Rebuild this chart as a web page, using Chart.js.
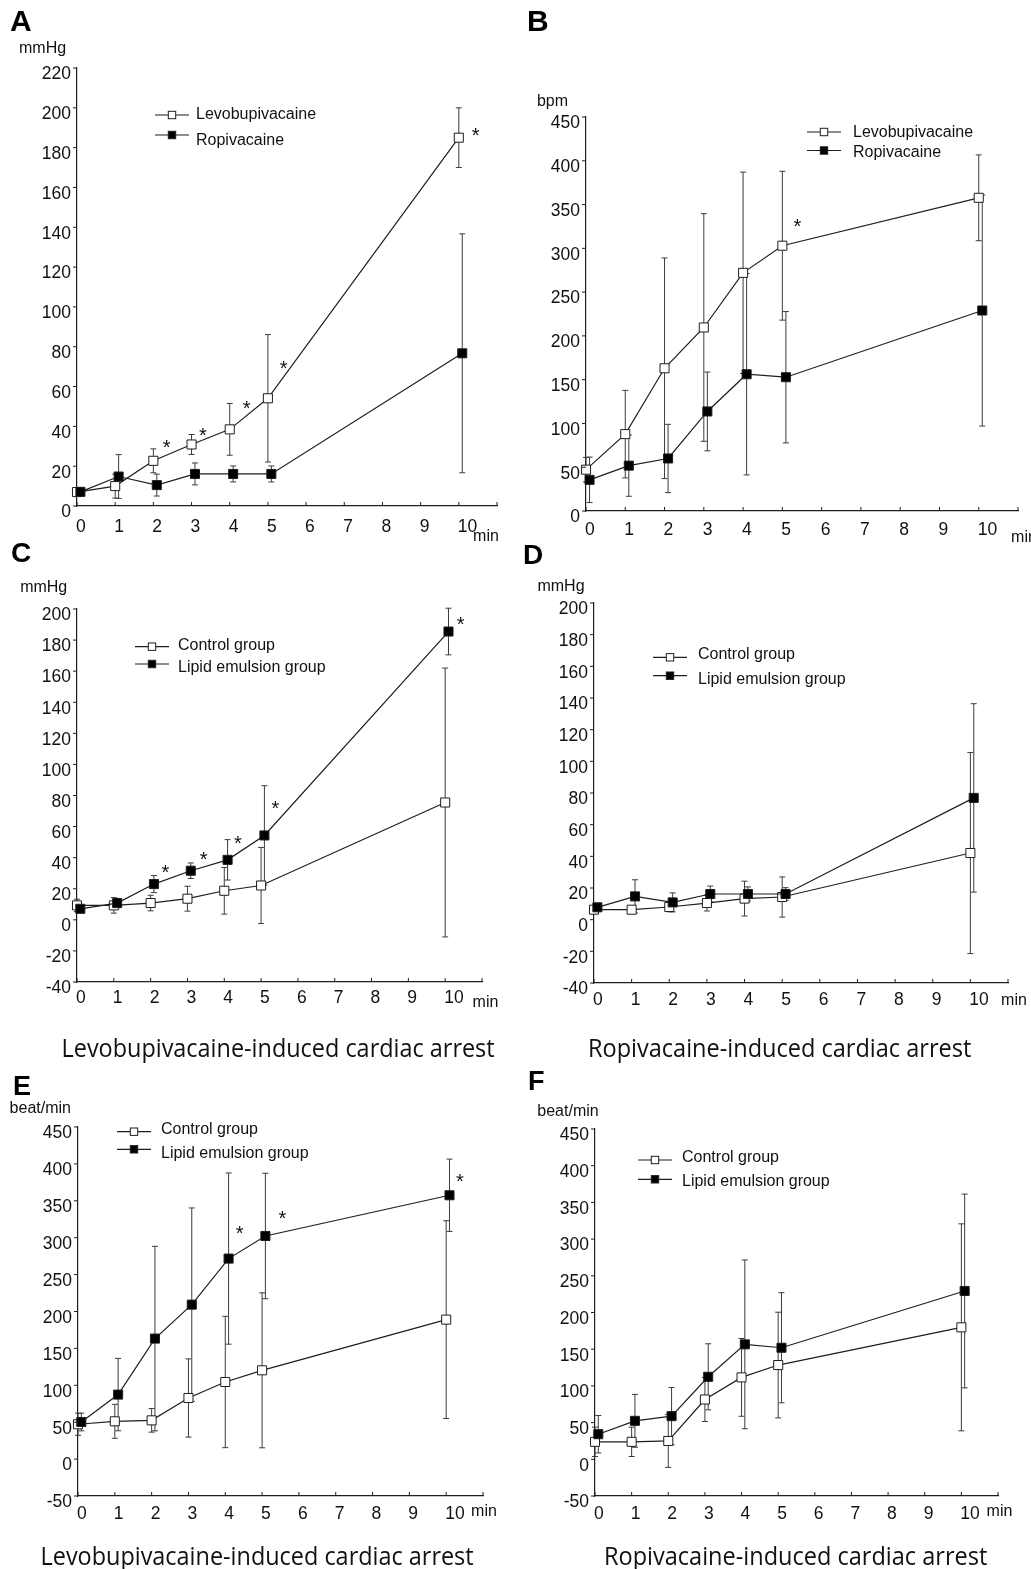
<!DOCTYPE html>
<html>
<head>
<meta charset="utf-8">
<script src="https://cdn.jsdelivr.net/npm/chart.js@4.4.0/dist/chart.umd.min.js"></script>
<style>
html, body { margin: 0; padding: 0; background: #fff; }
body { width: 1031px; height: 1569px; overflow: hidden; position: relative; }
canvas { position: absolute; }
.letter { position: absolute; font-family: 'Liberation Sans', Arial, sans-serif; font-weight: bold; color: #000; }
.sub { position: absolute; font: 25px 'Open Sans', sans-serif; line-height: 25px; color: #111; white-space: nowrap; transform-origin: center top; }
</style>
</head>
<body>

<div class="letter" style="left:10px;top:6px;font-size:30px;line-height:30px">A</div>
<div class="letter" style="left:527px;top:6px;font-size:30px;line-height:30px">B</div>
<div class="letter" style="left:11px;top:539px;font-size:28px;line-height:28px">C</div>
<div class="letter" style="left:523px;top:541px;font-size:28px;line-height:28px">D</div>
<div class="letter" style="left:13px;top:1073px;font-size:27px;line-height:27px">E</div>
<div class="letter" style="left:528px;top:1068px;font-size:27px;line-height:27px">F</div>

<div class="sub" data-cx="278" data-w="433" style="top:1035px">Levobupivacaine-induced cardiac arrest</div>
<div class="sub" data-cx="779" data-w="383" style="top:1035px">Ropivacaine-induced cardiac arrest</div>
<div class="sub" data-cx="257" data-w="433" style="top:1543px">Levobupivacaine-induced cardiac arrest</div>
<div class="sub" data-cx="795" data-w="383" style="top:1543px">Ropivacaine-induced cardiac arrest</div>

<script>
// sampling times (min) and x tick labels
const times = [0, 1, 2, 3, 4, 5, 10];
const xTickLabels = ['0', '1', '2', '3', '4', '5', '6', '7', '8', '9', '10', ''];

// A: blood pressure, mmHg
const aLevoMean = [7, 10, 22.7, 30.9, 38.5, 54.1, 185];
const aLevoErr  = [2, 6, 6, 5, 13, 32, 15];
const aRopiMean = [7.1, 14.8, 10.5, 16.1, 16.1, 16.1, 76.7];
const aRopiErr  = [2, 11, 5.5, 5.5, 4, 4, 60];
const aStars = [[2.35, 31.7], [3.3, 37.7], [4.44, 51.2], [5.41, 71.6], [10.44, 188.6]];

// B: heart rate, bpm
const bLevoMean = [47.2, 87.8, 163, 209.6, 272, 303, 357.7];
const bLevoErr  = [14, 50, 126, 130, 115, 85, 49];
const bRopiMean = [35.6, 51.8, 60, 113.7, 156.2, 152.8, 229];
const bRopiErr  = [26, 35, 39, 45, 115, 75, 132];
const bStars = [[5.38, 331]];

// C: levobupivacaine, mmHg
const cCtrlMean  = [9.3, 9.3, 10.8, 13.6, 18.7, 22.1, 75.5];
const cCtrlErr   = [4, 5, 5, 8, 15, 24.5, 86.5];
const cLipidMean = [7.1, 10.8, 23, 31.6, 38.6, 54.3, 185.5];
const cLipidErr  = [2, 3, 5.5, 5, 13, 32, 15];
const cStars = [[2.4, 33.7], [3.44, 41.9], [4.37, 52], [5.39, 75.1], [10.42, 193.4]];

// D: ropivacaine, mmHg
const dCtrlMean  = [6.3, 6.3, 8, 10.5, 13.3, 14.3, 42.1];
const dCtrlErr   = [2, 2, 3, 5, 11, 12.7, 63.5];
const dLipidMean = [7.8, 14.7, 10.9, 16.2, 16.2, 16.2, 76.9];
const dLipidErr  = [2, 10.5, 6, 5, 4.5, 4, 59.5];

// E: levobupivacaine, beat/min
const eCtrlMean  = [47.2, 51.2, 52.5, 82.8, 104.5, 120.3, 189];
const eCtrlErr   = [15, 23, 16, 53, 89, 105, 134];
const eLipidMean = [50.3, 87.4, 163.3, 209.3, 271.7, 302.3, 357.5];
const eLipidErr  = [12, 49, 125, 131, 116, 85, 49];
const eStars = [[4.39, 313], [5.55, 332.6], [10.37, 382.2]];

// F: ropivacaine, beat/min
const fCtrlMean  = [23.8, 23.8, 25, 81.5, 111.6, 128.4, 179.8];
const fCtrlErr   = [20, 20, 36, 30, 53, 72, 141];
const fLipidMean = [34.2, 52.4, 58.8, 112.4, 156.6, 152, 229.3];
const fLipidErr  = [25.5, 36, 39, 45, 115, 75, 132];

// layout of each panel, page pixels
const panels = [
  { plot: [77, 68, 497, 506], y: [0, 220, 20], unit: 'mmHg', unitAt: [42.6, 48.7], minAt: [486, 537], xPad: 11,
    legend: { x: 155, y1: 115, y2: 135, tx: 196, ty1: 115, ty2: 141 },
    series: [
      { label: 'Levobupivacaine', mean: aLevoMean, err: aLevoErr, filled: false },
      { label: 'Ropivacaine', mean: aRopiMean, err: aRopiErr, filled: true }],
    stars: aStars },
  { plot: [586, 117, 1018, 511], y: [0, 450, 50], unit: 'bpm', unitAt: [552.5, 101.4], minAt: [1024, 538], xPad: 9,
    legend: { x: 807, y1: 132, y2: 150.5, tx: 853, ty1: 132.5, ty2: 153 },
    series: [
      { label: 'Levobupivacaine', mean: bLevoMean, err: bLevoErr, filled: false },
      { label: 'Ropivacaine', mean: bRopiMean, err: bRopiErr, filled: true }],
    stars: bStars },
  { plot: [77, 609, 482, 982], y: [-40, 200, 20], unit: 'mmHg', unitAt: [43.7, 588], minAt: [485.5, 1003], xPad: 6,
    legend: { x: 135, y1: 646.7, y2: 664, tx: 178, ty1: 646, ty2: 667.7 },
    series: [
      { label: 'Control group', mean: cCtrlMean, err: cCtrlErr, filled: false },
      { label: 'Lipid emulsion group', mean: cLipidMean, err: cLipidErr, filled: true }],
    stars: cStars },
  { plot: [594, 603, 1008, 983], y: [-40, 200, 20], unit: 'mmHg', unitAt: [561, 587], minAt: [1014, 1001], xPad: 6.5,
    legend: { x: 653, y1: 657.3, y2: 675.7, tx: 698, ty1: 655, ty2: 680 },
    series: [
      { label: 'Control group', mean: dCtrlMean, err: dCtrlErr, filled: false },
      { label: 'Lipid emulsion group', mean: dLipidMean, err: dLipidErr, filled: true }],
    stars: [] },
  { plot: [78, 1127, 483, 1496], y: [-50, 450, 50], unit: 'beat/min', unitAt: [40.3, 1109], minAt: [484, 1512], xPad: 7.5,
    legend: { x: 117, y1: 1131.7, y2: 1149.3, tx: 161, ty1: 1130, ty2: 1154 },
    series: [
      { label: 'Control group', mean: eCtrlMean, err: eCtrlErr, filled: false },
      { label: 'Lipid emulsion group', mean: eLipidMean, err: eLipidErr, filled: true }],
    stars: eStars },
  { plot: [595, 1129, 998, 1496], y: [-50, 450, 50], unit: 'beat/min', unitAt: [568, 1112], minAt: [999.5, 1512], xPad: 7.5,
    legend: { x: 638, y1: 1160, y2: 1179.3, tx: 682, ty1: 1158, ty2: 1182 },
    series: [
      { label: 'Control group', mean: fCtrlMean, err: fCtrlErr, filled: false },
      { label: 'Lipid emulsion group', mean: fLipidMean, err: fLipidErr, filled: true }],
    stars: [] }
];

const PL = 80, PT = 62, PR = 45, PB = 50;
const INK = '#1e1e1e';
const FONT = "'Liberation Sans', Arial, sans-serif";

const extras = {
  id: 'extras',
  beforeDatasetsDraw(chart) {
    // error bars, under the markers
    const ctx = chart.ctx, ys = chart.scales.y;
    ctx.save();
    ctx.strokeStyle = '#3c3c3c';
    ctx.lineWidth = 1;
    chart.data.datasets.forEach((ds, i) => {
      const meta = chart.getDatasetMeta(i);
      ds.errors.forEach((e, j) => {
        const x = meta.data[j].x, m = ds.data[j].y;
        const y1 = ys.getPixelForValue(m + e), y2 = ys.getPixelForValue(m - e);
        ctx.beginPath();
        ctx.moveTo(x, y1); ctx.lineTo(x, y2);
        ctx.moveTo(x - 3, y1); ctx.lineTo(x + 3, y1);
        ctx.moveTo(x - 3, y2); ctx.lineTo(x + 3, y2);
        ctx.stroke();
      });
    });
    ctx.restore();
  },
  afterDraw(chart) {
    const p = chart.canvas.panel, ox = chart.canvas.ox, oy = chart.canvas.oy;
    const ctx = chart.ctx, xs = chart.scales.x, ys = chart.scales.y, a = chart.chartArea;
    ctx.save();
    // small tick marks
    ctx.strokeStyle = INK;
    ctx.lineWidth = 1;
    ctx.beginPath();
    xs.ticks.forEach(t => {
      const x = xs.getPixelForValue(t.value);
      ctx.moveTo(x, a.bottom); ctx.lineTo(x, a.bottom - 4);
    });
    ys.ticks.forEach(t => {
      const y = ys.getPixelForValue(t.value);
      ctx.moveTo(a.left, y); ctx.lineTo(a.left - 4, y);
    });
    ctx.stroke();

    ctx.fillStyle = '#111';
    // unit and min labels
    ctx.font = '16px ' + FONT;
    ctx.textAlign = 'center';
    ctx.textBaseline = 'middle';
    ctx.fillText(p.unit, p.unitAt[0] - ox, p.unitAt[1] - oy);
    ctx.fillText('min', p.minAt[0] - ox, p.minAt[1] - oy);

    // legend
    const L = p.legend;
    chart.data.datasets.forEach((ds, i) => {
      const y = (i ? L.y2 : L.y1) - oy, x0 = L.x - ox;
      ctx.strokeStyle = INK;
      ctx.lineWidth = 1.2;
      ctx.beginPath(); ctx.moveTo(x0, y); ctx.lineTo(x0 + 34, y); ctx.stroke();
      ctx.fillStyle = ds.pointBackgroundColor;
      ctx.fillRect(x0 + 13.3, y - 3.7, 7.4, 7.4);
      ctx.lineWidth = 1;
      ctx.strokeRect(x0 + 13.3, y - 3.7, 7.4, 7.4);
      ctx.fillStyle = '#111';
      ctx.textAlign = 'left';
      ctx.fillText(ds.label, L.tx - ox, (i ? L.ty2 : L.ty1) - oy);
    });

    // significance marks
    ctx.font = '20px ' + FONT;
    ctx.textAlign = 'center';
    ctx.textBaseline = 'alphabetic';
    p.stars.forEach(([t, v]) => {
      ctx.fillText('*', xs.getPixelForValue(t), ys.getPixelForValue(v) + 11.4);
    });
    ctx.restore();
  }
};

function makePanel(p) {
  const [l, t, r, b] = p.plot;
  const cv = document.createElement('canvas');
  const left = l - PL, top = t - PT;
  cv.width = r - l + PL + PR;
  cv.height = b - t + PT + PB;
  cv.style.left = left + 'px';
  cv.style.top = top + 'px';
  cv.panel = p; cv.ox = left; cv.oy = top;
  document.body.insertBefore(cv, document.body.firstChild);

  const tickFont = { family: FONT, size: 17.5 };
  new Chart(cv, {
    type: 'line',
    data: {
      datasets: p.series.map(s => ({
        label: s.label,
        data: times.map((tm, j) => ({ x: tm + (s.filled ? 0.09 : 0), y: s.mean[j] })),
        errors: s.err,
        borderColor: INK,
        borderWidth: 1.2,
        pointStyle: 'rect',
        pointRadius: 6.4,
        pointHoverRadius: 6.4,
        pointBackgroundColor: s.filled ? '#000' : '#fff',
        pointBorderColor: INK,
        pointBorderWidth: 1,
        order: s.filled ? 0 : 1,
        clip: false,
        tension: 0
      }))
    },
    options: {
      responsive: false,
      animation: false,
      events: [],
      layout: { padding: { top: PT, right: PR, left: 0, bottom: 0 } },
      plugins: { legend: { display: false }, tooltip: { enabled: false } },
      scales: {
        x: {
          type: 'linear', min: 0, max: 11,
          ticks: { stepSize: 1, autoSkip: false, maxRotation: 0, align: 'start', labelOffset: -1,
                   padding: p.xPad, color: '#111', font: tickFont,
                   callback: (v, i) => xTickLabels[i] },
          grid: { display: false, drawTicks: false },
          border: { display: true, color: INK, width: 1.2 },
          afterFit: s => { s.height = PB; }
        },
        y: {
          min: p.y[0], max: p.y[1],
          ticks: { stepSize: p.y[2], padding: 6, labelOffset: 6.5, color: '#111', font: tickFont },
          grid: { display: false, drawTicks: false },
          border: { display: true, color: INK, width: 1.2 },
          afterFit: s => { s.width = PL; }
        }
      }
    },
    plugins: [extras]
  });
}

function fitSubs() {
  document.querySelectorAll('.sub').forEach(el => {
    const w = el.offsetWidth;
    el.style.left = (Number(el.dataset.cx) - w / 2) + 'px';
    el.style.transform = 'scaleX(' + (Number(el.dataset.w) / w) + ')';
  });
}

document.fonts.ready.then(() => {
  panels.forEach(makePanel);
  fitSubs();
});
</script>
</body>
</html>
